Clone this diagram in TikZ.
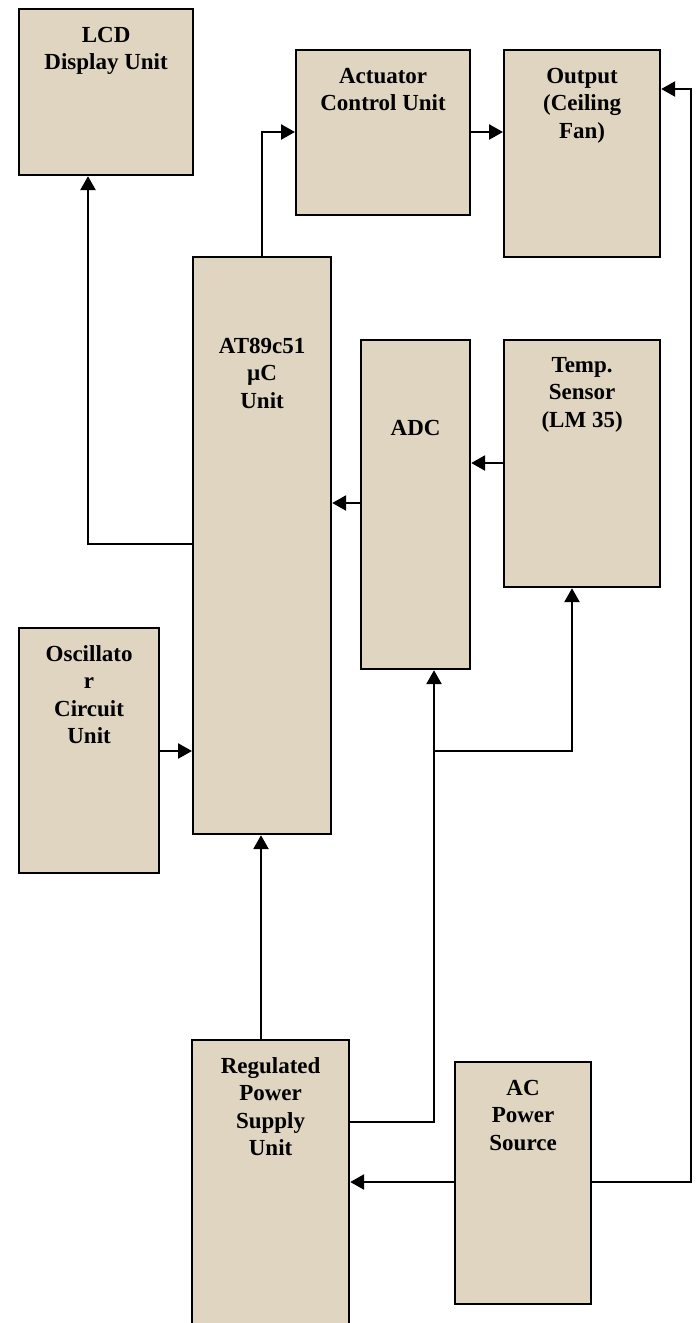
\documentclass[tikz,border=0pt]{standalone}
\usepackage{fontspec}
\setmainfont{Liberation Serif}
\usetikzlibrary{arrows.meta}
\definecolor{boxfill}{RGB}{223,213,193}
\begin{document}
\begin{tikzpicture}[x=1pt,y=-1pt,
  blk/.style={draw=black, line width=2.2pt, fill=boxfill, inner sep=0pt, anchor=north west},
  lbl/.style={anchor=north, align=center, inner sep=0pt, font=\fontsize{23}{27.5}\selectfont\bfseries},
  conn/.style={line width=2.6pt, -{Triangle[length=14pt,width=15pt]}},
  wire/.style={line width=2pt}]
\useasboundingbox (0,0) rectangle (696,1323);
\clip (0,0) rectangle (696,1323);
% boxes
\node[blk, minimum width=174pt, minimum height=166pt] (lcd) at (18,8) {};
\node[blk, minimum width=174pt, minimum height=165pt] (act) at (295,49) {};
\node[blk, minimum width=156pt, minimum height=207pt] (out) at (503,49) {};
\node[blk, minimum width=138pt, minimum height=577pt] (mcu) at (192,256) {};
\node[blk, minimum width=109pt, minimum height=329pt] (adc) at (360,339) {};
\node[blk, minimum width=156pt, minimum height=247pt] (tmp) at (503,339) {};
\node[blk, minimum width=140pt, minimum height=245pt] (osc) at (18,627) {};
\node[blk, minimum width=157pt, minimum height=300pt] (rps) at (191,1039) {};
\node[blk, minimum width=136pt, minimum height=242pt] (acs) at (454,1061) {};
% labels
\node[lbl] (lcdt) at ([yshift=-18pt]lcd.north) {\rule{0pt}{16pt}LCD\\Display Unit};
\node[lbl] (actt) at ([yshift=-18pt]act.north) {\rule{0pt}{16pt}Actuator\\Control Unit};
\node[lbl] (outt) at ([yshift=-18pt]out.north) {\rule{0pt}{16pt}Output\\(Ceiling\\Fan)};
\node[lbl] (mcut) at ([yshift=-81pt]mcu.north) {\rule{0pt}{16pt}AT89c51\\µC\\Unit};
\node[lbl] (adct) at ([yshift=-80pt]adc.north) {\rule{0pt}{16pt}ADC};
\node[lbl] (tmpt) at ([yshift=-17pt]tmp.north) {\rule{0pt}{16pt}Temp.\\Sensor\\(LM 35)};
\node[lbl] (osct) at ([yshift=-18pt]osc.north) {\rule{0pt}{16pt}Oscillato\\r\\Circuit\\Unit};
\node[lbl] (rpst) at ([yshift=-18pt]rps.north) {\rule{0pt}{16pt}Regulated\\Power\\Supply\\Unit};
\node[lbl] (acst) at ([yshift=-18pt]acs.north) {\rule{0pt}{16pt}AC\\Power\\Source};
% connectors
\coordinate (jn) at (434,751);
\draw[conn] (mcu.west |- 0,544) -| (lcd.south -| 88,0);
\draw[conn] (mcu.north -| 262,0) |- (act.west |- 0,132);
\draw[conn] (act.east |- 0,132) -- (out.west |- 0,132);
\draw[conn] (tmp.west |- 0,463) -- (adc.east |- 0,463);
\draw[conn] (adc.west |- 0,503) -- (mcu.east |- 0,503);
\draw[conn] (osc.east |- 0,751) -- (mcu.west |- 0,751);
\draw[conn] (rps.north -| 261,0) -- (mcu.south -| 261,0);
\draw[conn] (acs.west |- 0,1182) -- (rps.east |- 0,1182);
\draw[conn] (acs.east |- 0,1182) -| (691,89) -- (out.east |- 0,89);
\draw[conn] (rps.east |- 0,1122) -| (adc.south -| 434,0);
\draw[conn] (jn) -| (tmp.south -| 572,0);
\end{tikzpicture}
\end{document}
